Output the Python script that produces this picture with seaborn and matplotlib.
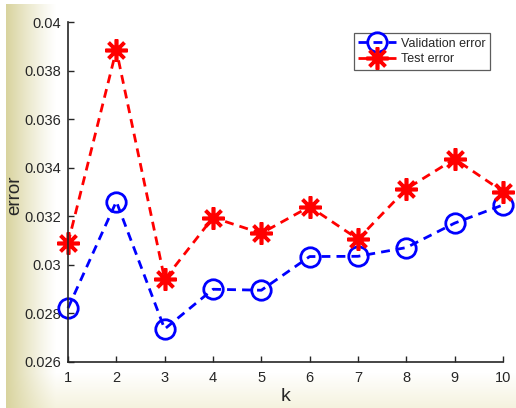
import numpy as np
import pandas as pd
import matplotlib
matplotlib.use("Agg")
import matplotlib.pyplot as plt
from matplotlib.ticker import FixedLocator, FixedFormatter
import seaborn as sns

# k values and measured errors
k_values = [1, 2, 3, 4, 5, 6, 7, 8, 9, 10]
validation_error = [0.02821, 0.03261, 0.02735, 0.02899, 0.02895,
                    0.03034, 0.03035, 0.03071, 0.03172, 0.03247]
test_error = [0.03089, 0.03887, 0.02940, 0.03195, 0.03130,
              0.03240, 0.03106, 0.03313, 0.03437, 0.03302]
y_ticks = [0.026, 0.028, 0.030, 0.032, 0.034, 0.036, 0.038, 0.040]
y_tick_labels = ["0.026", "0.028", "0.03", "0.032", "0.034", "0.036", "0.038", "0.04"]

sns.set_style("white")
plt.rcParams["font.family"] = ["Liberation Sans", "DejaVu Sans"]

W, H = 516, 408
fig = plt.figure(figsize=(W / 100, H / 100), dpi=100)

# slide-style backdrop: khaki fade on the left, pale cream fade at the bottom
bg = np.ones((H, W, 3))
xs = np.arange(W)
ys = np.arange(H)
left = np.clip(1 - (xs - 6) / 50.0, 0, 1) ** 1.2
left[:6] = 0
khaki = np.array([0.85, 0.83, 0.62])
bottom = np.clip((ys - 372) / 36.0, 0, 1)
cream = np.array([0.96, 0.95, 0.87])
for c in range(3):
    bg[:, :, c] = 1 - bottom[:, None] * (1 - cream[c])
    bg[:, :, c] = bg[:, :, c] * (1 - left[None, :]) + khaki[c] * left[None, :]
bg[:4, :, :] = 1
bg[:, :6, :] = 1
bax = fig.add_axes([0, 0, 1, 1], zorder=-10)
bax.imshow(bg, aspect="auto", extent=[0, 1, 0, 1], origin="upper")
bax.axis("off")

ax = fig.add_axes([68 / W, (H - 361.7) / H, 435 / W, (361.7 - 22.5) / H])
ax.set_facecolor("white")

df_val = pd.DataFrame({"k": k_values, "error": validation_error})
df_test = pd.DataFrame({"k": k_values, "error": test_error})

sns.lineplot(data=df_val, x="k", y="error", ax=ax, color="#0000ff",
             linestyle=(0, (3.2, 2.2)), linewidth=2.0, marker="o",
             markersize=14, markerfacecolor="none", markeredgecolor="#0000ff",
             markeredgewidth=2.0, label="Validation error", clip_on=False)
sns.lineplot(data=df_test, x="k", y="error", ax=ax, color="#ff0000",
             linestyle=(0, (3.2, 2.2)), linewidth=2.0, marker=(8, 2, 0),
             markersize=16, markeredgecolor="#ff0000", markeredgewidth=2.6,
             label="Test error", clip_on=False)

ax.set_xlim(1, 10)
ax.set_ylim(0.026, 0.040)
ax.xaxis.set_major_locator(FixedLocator(k_values))
ax.yaxis.set_major_locator(FixedLocator(y_ticks))
ax.yaxis.set_major_formatter(FixedFormatter(y_tick_labels))

for side in ("top", "right"):
    ax.spines[side].set_visible(False)
for side in ("left", "bottom"):
    ax.spines[side].set_color("#262626")
    ax.spines[side].set_linewidth(1.2)
ax.tick_params(direction="in", length=4, width=1.0, color="#262626",
               labelsize=10.5, labelcolor="#262626", pad=5,
               left=True, bottom=True)
ax.tick_params(axis="x", pad=7)

ax.set_xlabel("k", fontsize=14, color="#262626", labelpad=2)
ax.set_ylabel("error", fontsize=13.5, color="#262626")
ax.yaxis.set_label_coords(-0.102, 0.49)

leg = ax.legend(loc="upper right", bbox_to_anchor=(0.97, 0.968),
                fontsize=9, frameon=True, fancybox=False,
                handlelength=3.0, handletextpad=0.4, borderpad=0.35,
                labelspacing=0.3, borderaxespad=0)
leg.get_frame().set_edgecolor("#333333")
leg.get_frame().set_linewidth(0.9)

fig.savefig("out.png", dpi=100)
